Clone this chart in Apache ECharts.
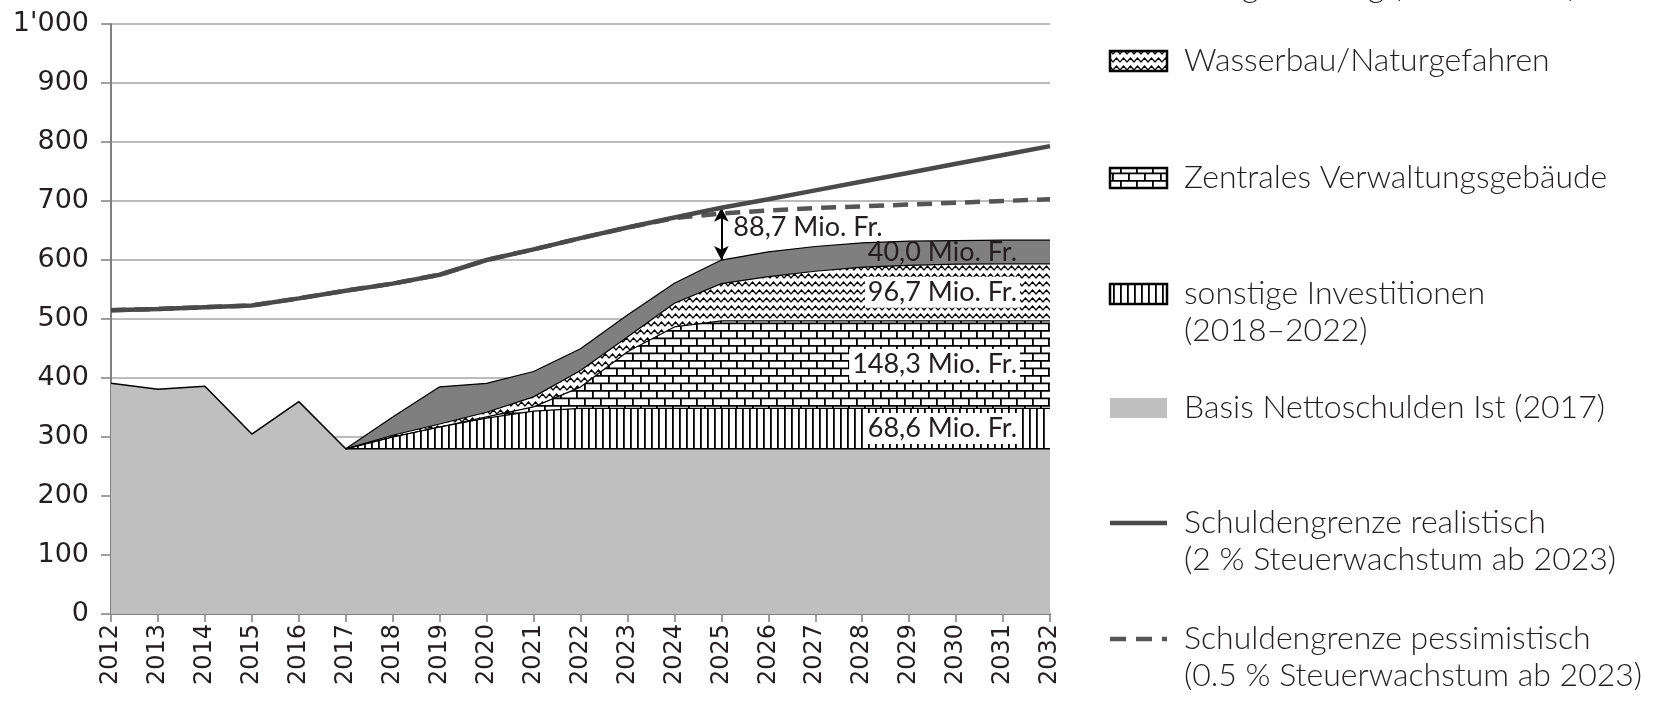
<!DOCTYPE html>
<html><head><meta charset="utf-8">
<script src="https://cdn.jsdelivr.net/npm/echarts@6/dist/echarts.min.js"></script>
<style>html,body{margin:0;padding:0;background:#fff}#c{width:1663px;height:702px}</style>
</head><body><div id="c"></div><script>
// ---- data ----
const years = ['2012','2013','2014','2015','2016','2017','2018','2019','2020','2021','2022','2023','2024','2025','2026','2027','2028','2029','2030','2031','2032'];
const yTicks = [0,100,200,300,400,500,600,700,800,900,1000];
const basis      = [391,381,386,305,360,280,280,280,280,280,280,280,280,280,280,280,280,280,280,280,280];
const sonstige   = ['-','-','-','-','-',0,20,37,52,64,68.6,68.6,68.6,68.6,68.6,68.6,68.6,68.6,68.6,68.6,68.6];
const zentral    = ['-','-','-','-','-',0,0,0,2,7,36,96,138,148.3,148.3,148.3,148.3,148.3,148.3,148.3,148.3];
const wasserbau  = ['-','-','-','-','-',0,3,5,8,17,28,25,40,63,75,84,91,94,96,96.7,96.7];
const dunkel     = ['-','-','-','-','-',0,31,63,49,43,37,37,34,40,42,42,41,41,40,40,40];
const realistisch   = [515,517,520,523,535,548,560,575,600,618,637,655,672,688.6,703,718,733,748,763,778,793];
const pessimistisch = [515,517,520,523,535,548,560,575,600,618,637,655,671,679,684,688,691,694,697,700,703];
const labelTexts = {diff:'88,7 Mio. Fr.', dunkel:'40,0 Mio. Fr.', wasser:'96,7 Mio. Fr.', zentral:'148,3 Mio. Fr.', sonstige:'68,6 Mio. Fr.'};
const legendNames = ['Neugestaltung (2018–2025)','Wasserbau/Naturgefahren','Zentrales Verwaltungsgebäude','sonstige Investitionen\n(2018–2022)','Basis Nettoschulden Ist (2017)','Schuldengrenze realistisch\n(2 % Steuerwachstum ab 2023)','Schuldengrenze pessimistisch\n(0.5 % Steuerwachstum ab 2023)'];

// ---- patterns ----
function mk(w,h,draw){const c=document.createElement('canvas');c.width=w;c.height=h;const x=c.getContext('2d');x.fillStyle='#fff';x.fillRect(0,0,w,h);x.strokeStyle='#000';x.fillStyle='#000';draw(x);return c;}
const pV = mk(7,10,x=>{x.fillRect(0,0,1.8,10);});
const pB = mk(16,15,x=>{x.lineWidth=1.8;x.beginPath();x.moveTo(0,0.9);x.lineTo(16,0.9);x.moveTo(0,8.4);x.lineTo(16,8.4);x.moveTo(0.9,0);x.lineTo(0.9,8);x.moveTo(8.9,8);x.lineTo(8.9,15);x.stroke();});
const pW = mk(7,8,x=>{x.lineWidth=1.4;x.lineJoin='miter';x.beginPath();x.moveTo(-1,6.5);x.lineTo(0,6);x.lineTo(3.5,2);x.lineTo(7,6);x.lineTo(8,6.5);x.stroke();});
const pat = c=>({image:c, repeat:'repeat'});

const sum = (i, arrs)=>arrs.reduce((s,a)=>s+(a[i]==='-'?0:a[i]),0);
const last = years.length-1;
const i25 = years.indexOf('2025');
const stackTop25 = sum(i25,[basis,sonstige,zentral,wasserbau,dunkel]);
const mid = (lo,hi)=>[years[last], (sum(last,lo)+sum(last,hi))/2];

const FONT = 'Lato';
const lblBox = (t)=>({show:true, formatter:t, position:'left', distance:30, fontFamily:FONT, fontWeight:400, fontSize:27, color:'#231f20', backgroundColor:'#fff', padding:[3,3,1,3]});

function area(name, data, fill, z){
  return {name, type:'line', stack:'s', data, symbol:'none', z,
    lineStyle:{color:'#000', width:1.2}, areaStyle:{color:fill, opacity:1}, emphasis:{disabled:true}};
}

const s1 = area('basis', basis, '#bfbfbf', 2); s1.lineStyle.width=1.5;
const s2 = area('sonstige', sonstige, pat(pV), 2);
s2.markPoint = {symbol:'circle', symbolSize:0, data:[{coord:mid([basis],[basis,sonstige]), label:lblBox(labelTexts.sonstige)}]};
const s3 = area('zentral', zentral, pat(pB), 2);
s3.markPoint = {symbol:'circle', symbolSize:0, data:[{coord:mid([basis,sonstige],[basis,sonstige,zentral]), label:lblBox(labelTexts.zentral)}]};
const s4 = area('wasser', wasserbau, pat(pW), 2);
s4.markPoint = {symbol:'circle', symbolSize:0, data:[{coord:mid([basis,sonstige,zentral],[basis,sonstige,zentral,wasserbau]), label:lblBox(labelTexts.wasser)}]};
const s5 = area('dunkel', dunkel, '#7f7f7f', 2);
s5.markPoint = {symbol:'circle', symbolSize:0, data:[
  {coord:mid([basis,sonstige,zentral,wasserbau],[basis,sonstige,zentral,wasserbau,dunkel]), label:Object.assign(lblBox(labelTexts.dunkel),{backgroundColor:'transparent'})},
  {coord:[years[i25], (stackTop25+realistisch[i25])/2], label:{show:true, formatter:labelTexts.diff, position:'right', distance:12, offset:[0,-7], fontFamily:FONT, fontWeight:400, fontSize:27, color:'#231f20'}}
]};
s5.markLine = {silent:true, symbol:['arrow','arrow'], symbolSize:[11,14], lineStyle:{color:'#000', width:2, type:'solid'}, label:{show:false},
  data:[[{coord:[years[i25], stackTop25]},{coord:[years[i25], realistisch[i25]]}]]};

const option = {
  animation:false,
  grid:{left:111, right:613, top:24, bottom:88, containLabel:false},
  xAxis:{type:'category', data:years, boundaryGap:false,
    axisLine:{lineStyle:{color:'#808080', width:2}},
    axisTick:{show:true, length:8, lineStyle:{color:'#808080', width:1.5}},
    axisLabel:{rotate:90, fontFamily:'DejaVu Sans', fontSize:24, color:'#231f20', margin:10}},
  yAxis:{type:'value', min:0, max:1000, interval:100,
    axisLine:{show:true, lineStyle:{color:'#808080', width:2}},
    axisTick:{show:true, length:10, lineStyle:{color:'#808080', width:1.5}},
    splitLine:{lineStyle:{color:'#a6a6a6', width:1.5}},
    axisLabel:{fontFamily:'DejaVu Sans', fontSize:27, color:'#231f20', margin:22,
      formatter:v=> v>=1000 ? Math.floor(v/1000)+"'"+String(v%1000).padStart(3,'0') : String(v)}},
  series:[s1,s2,s3,s4,s5,
    {name:'realistisch', type:'line', data:realistisch, symbol:'none', z:5, lineStyle:{color:'#4a4a4a', width:4.5}},
    {name:'pessimistisch', type:'line', data:pessimistisch, symbol:'none', z:4, lineStyle:{color:'#555', width:4.5, type:[15,9]}}
  ],
  graphic:[]
};

// ---- legend (graphic) ----
const LX = 1110, LW = 57, TX = 1184, LF = '300 32px ' + FONT;
const legY = [-13, 61, 178, 294, 408, 523, 639];
const fills = ['#7f7f7f', pat(pW), pat(pB), pat(pV), '#bfbfbf'];
const g = option.graphic;
legendNames.forEach((t,i)=>{
  const y = legY[i];
  if (i<5) {
    g.push({type:'rect', shape:{x:LX, y:y-10, width:LW, height:20}, style:{fill:fills[i], stroke: i===4?null:'#000', lineWidth:2.5}});
  } else if (i===5) {
    g.push({type:'line', shape:{x1:LX, y1:y, x2:LX+LW, y2:y}, style:{stroke:'#4a4a4a', lineWidth:4.5}});
  } else {
    g.push({type:'line', shape:{x1:LX, y1:y, x2:LX+LW, y2:y}, style:{stroke:'#555', lineWidth:4.5, lineDash:[16,10]}});
  }
  g.push({type:'text', style:{text:t, x:TX, y:y-19, font:LF, fill:'#231f20', lineHeight:37, textVerticalAlign:'top', verticalAlign:'top'}});
});

const chart = echarts.init(document.getElementById('c'));
chart.setOption(option);
</script></body></html>
